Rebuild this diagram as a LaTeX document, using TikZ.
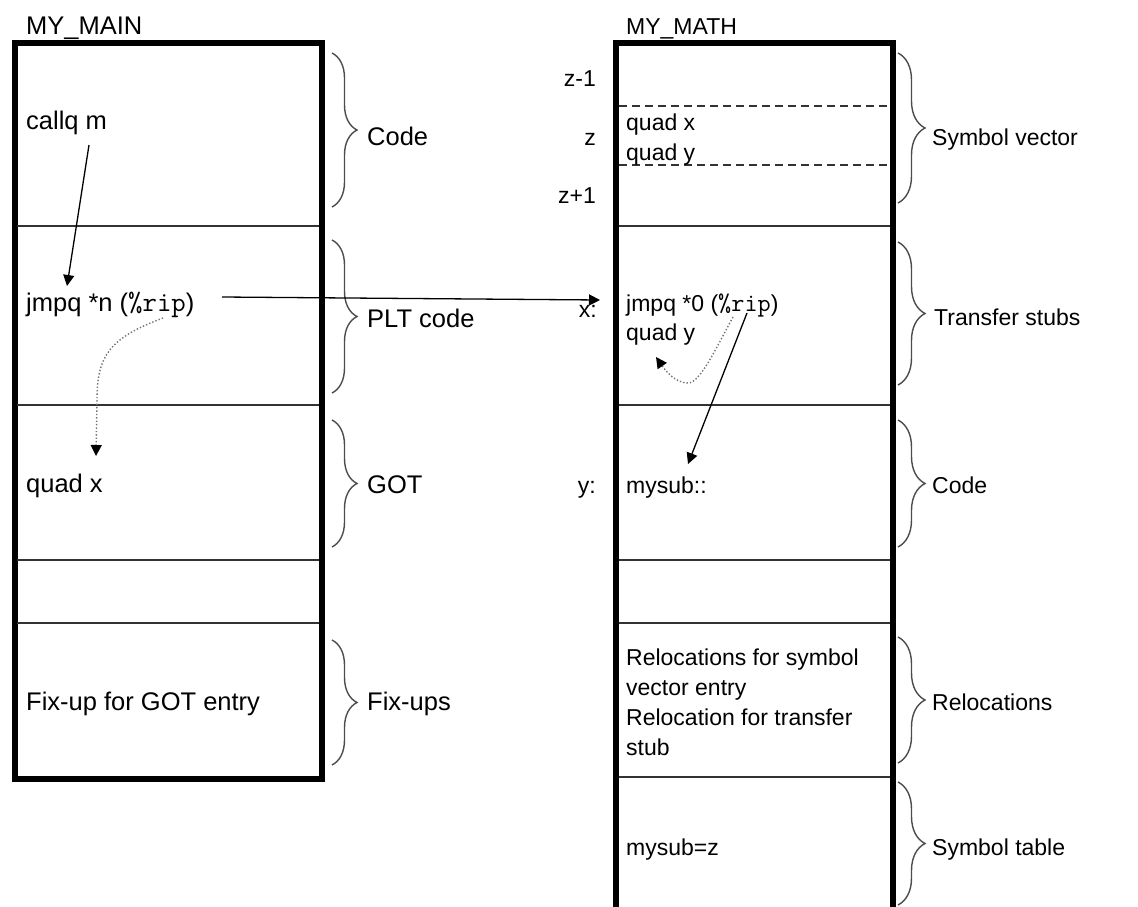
\documentclass[tikz,border=0pt]{standalone}
\usepackage{fontspec}
\setmainfont{Liberation Sans}
\usetikzlibrary{decorations.pathreplacing,arrows.meta}
\newcommand{\ripL}{{\fontsize{28}{30}\ttfamily\%rip}}
\newcommand{\ripR}{{\fontsize{25.5}{30}\ttfamily\%rip}}
\begin{document}
\begin{tikzpicture}[x=1pt,y=-1pt,
  txt/.style={inner sep=0pt, anchor=base west, font=\fontsize{25.5}{30}\selectfont},
  rtx/.style={inner sep=0pt, anchor=base west, font=\fontsize{23}{30}\selectfont},
  rrtx/.style={rtx, anchor=base east},
  boxline/.style={line width=6pt},
  divider/.style={line width=1.5pt, draw=black!80},
  dashdiv/.style={line width=1.3pt, draw=black!80, dash pattern=on 8pt off 5pt},
  brc/.style={decorate, decoration={brace, amplitude=#1, aspect=0.5}, line width=1.4pt, draw=black!70},
  arr/.style={line width=1.3pt, -{Triangle[length=11pt,width=11pt]}},
  dotarr/.style={line width=1.4pt, dotted, draw=black!55, -{Triangle[length=11pt,width=11pt,color=black]}},
]
\useasboundingbox (0,0) rectangle (1138,907);
\begin{scope}
\clip (0,0) rectangle (1138,907);
% boxes
\draw[boxline] (14.5,43) rectangle (322,779);
\draw[boxline] (616,43) rectangle (893,940);
% left dividers
\foreach \yy in {226,405,560,623} \draw[divider] (17,\yy) -- (319,\yy);
% right dividers
\foreach \yy in {226,405,560,623,777} \draw[divider] (619,\yy) -- (890,\yy);
\draw[dashdiv] (619,106) -- (890,106);
\draw[dashdiv] (619,165) -- (890,165);
% braces left
\draw[brc=25pt] (332,53) -- (332,207);
\draw[brc=25pt] (332,240) -- (332,393);
\draw[brc=25pt] (332,420) -- (332,547);
\draw[brc=25pt] (332,640) -- (332,765);
% braces right
\draw[brc=27pt] (898,53) -- (898,203);
\draw[brc=27pt] (898,242) -- (898,385);
\draw[brc=27pt] (898,420) -- (898,547);
\draw[brc=27pt] (898,637) -- (898,763);
\draw[brc=27pt] (898,782) -- (898,905);
\end{scope}
% titles
\node[txt] (mymain) at (26,35) {MY\_MAIN};
\node[rtx] (mymath) at (626,35) {MY\_MATH};
% left texts
\node[txt] (callq) at (26,129) {callq m};
\node[txt] (jmpn) at (26,311) {jmpq *n (\ripL)};
\node[txt] (quadxl) at (26,492) {quad x};
\node[txt] (fixup) at (26,710) {Fix-up for GOT entry};
% left labels
\node[txt] (lcode) at (367,145) {Code};
\node[txt] (lplt) at (367,327) {PLT code};
\node[txt] (lgot) at (367,493) {GOT};
\node[txt] (lfix) at (367,710) {Fix-ups};
% right side labels
\node[rrtx] (zm1) at (596,87) {z-1};
\node[rrtx] (z0) at (596,145) {z};
\node[rrtx] (zp1) at (596,203) {z+1};
\node[rrtx] (xlab) at (597,317) {x:};
\node[rrtx] (ylab) at (596,493) {y:};
% right texts
\node[rtx] (quadxr) at (626,130) {quad x};
\node[rtx] (quadyr) at (626,160) {quad y};
\node[rtx] (jmp0) at (626,311) {jmpq *0 (\ripR)};
\node[rtx] (quady2) at (626,340) {quad y};
\node[rtx] (mysub) at (626,493) {mysub::};
\node[rtx] (rel1) at (626,665) {Relocations for symbol};
\node[rtx] (rel2) at (626,695) {vector entry};
\node[rtx] (rel3) at (626,725) {Relocation for transfer};
\node[rtx] (rel4) at (626,755) {stub};
\node[rtx] (mysubz) at (626,855) {mysub=z};
% right labels
\node[rtx] (rsym) at (932,145) {Symbol vector};
\node[rtx] (rtrans) at (934,325) {Transfer stubs};
\node[rtx] (rcode) at (932,493) {Code};
\node[rtx] (rrel) at (932,710) {Relocations};
\node[rtx] (rsymt) at (932,855) {Symbol table};
% connector coordinates
\coordinate (c1s) at (89,145);
\coordinate (c1e) at (67,286);
\coordinate (c2s) at (222,297);
\coordinate (c2e) at (600,300);
\coordinate (c3s) at (163,318);
\coordinate (c3e) at (96,456);
\coordinate (c4s) at (747,313);
\coordinate (c4e) at (688,464);
\coordinate (c5s) at (733,317);
\coordinate (c5e) at (656,357);
% connectors
\draw[arr] (c1s) -- (c1e);
\draw[arr] (c2s) -- (c2e);
\draw[dotarr] (c3s) .. controls (110,338) and (97,355) .. (97,400) -- (c3e);
\draw[arr] (c4s) -- (c4e);
\draw[dotarr] (c5s) .. controls (715,350) and (700,383) .. (688,383) .. controls (675,383) and (665,370) .. (c5e);
\end{tikzpicture}
\end{document}
